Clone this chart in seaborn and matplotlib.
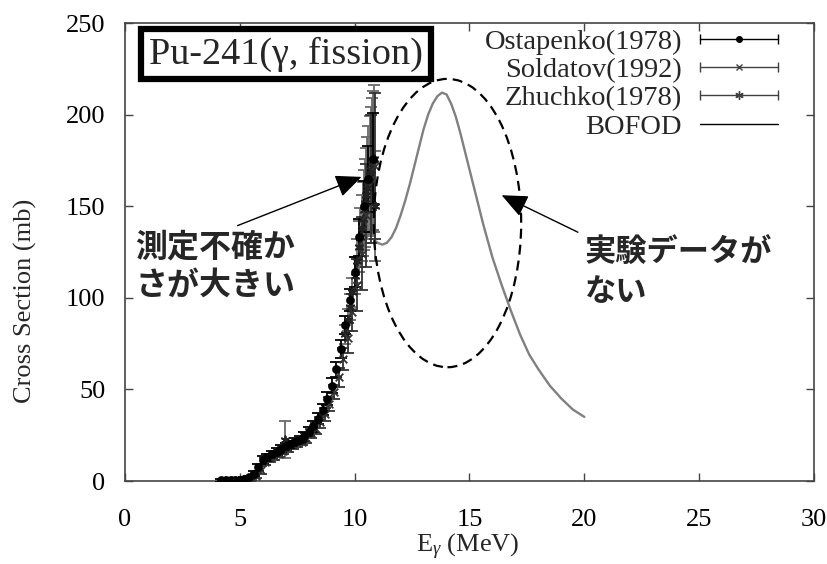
import numpy as np
import pandas as pd
import matplotlib
matplotlib.use("Agg")
import matplotlib.pyplot as plt
import seaborn as sns
from matplotlib.lines import Line2D
from matplotlib.patches import Ellipse

# ---------------- data ----------------
ost_E = [4.2, 4.4, 4.6, 4.8, 5.0, 5.2, 5.4, 5.6, 5.8, 6.0, 6.2, 6.4, 6.6, 6.8, 7.0, 7.2, 7.4,
         7.6, 7.8, 8.0, 8.2, 8.4, 8.6, 8.8, 9.0, 9.2, 9.4, 9.6, 9.8, 10.0, 10.2, 10.4, 10.6, 10.8]
ost_sig = [0.3, 0.4, 0.5, 0.6, 0.8, 1.2, 2.0, 4.0, 7.5, 11.5, 13.0, 14.5, 16.0, 17.5, 19.0, 20.0,
           21.5, 22.5, 24.5, 27.0, 30.0, 34.0, 39.0, 45.0, 52.0, 61.0, 72.0, 85.0, 99.0, 114.0,
           133.0, 150.0, 165.0, 176.0]
ost_err = [1.0, 1.0, 1.0, 1.0, 1.0, 1.0, 1.0, 1.5, 2.0, 2.0, 2.0, 2.0, 2.0, 2.0, 2.0, 2.0, 2.0,
           2.0, 2.5, 2.5, 3.0, 3.0, 3.0, 3.5, 4.0, 4.0, 5.0, 5.0, 6.0, 8.0, 10.0, 14.0, 18.0, 25.0]

sol_E = [4.3, 4.5, 4.7, 4.9, 5.1, 5.3, 5.5, 5.7, 5.9, 6.1, 6.3, 6.5, 6.7, 6.9, 7.1, 7.3, 7.5,
         7.7, 7.9, 8.1, 8.3, 8.5, 8.7, 8.9, 9.1, 9.3, 9.5, 9.7, 9.9, 10.1, 10.3, 10.5, 10.7, 10.9]
sol_sig = [0.2, 0.3, 0.4, 0.5, 0.7, 1.0, 1.5, 3.0, 6.0, 10.5, 12.5, 13.5, 15.0, 16.5, 18.0, 19.5,
           20.5, 21.5, 23.5, 26.0, 28.5, 32.0, 36.5, 42.0, 48.5, 56.5, 66.5, 78.0, 92.0, 107.0,
           124.0, 145.0, 165.0, 172.0]
sol_err = [1.0, 1.0, 1.0, 1.0, 1.0, 1.0, 1.0, 1.5, 2.0, 2.0, 2.0, 2.0, 2.0, 2.0, 2.0, 2.0, 2.0,
           2.0, 2.5, 2.5, 3.0, 3.0, 3.5, 4.0, 4.0, 5.0, 6.0, 8.0, 10.0, 14.0, 20.0, 28.0, 35.0, 40.0]

zhu_E = [6.95, 9.6, 9.7, 9.8, 9.9, 10.0, 10.1, 10.2, 10.25, 10.3, 10.35, 10.4, 10.45, 10.5,
         10.55, 10.6, 10.65, 10.7, 10.75, 10.8, 10.85, 10.9]
zhu_sig = [22.5, 80.0, 88.0, 95.0, 103.0, 112.0, 120.0, 128.0, 133.0, 138.0, 143.0, 148.0, 152.0,
           156.0, 160.0, 164.0, 167.0, 170.0, 173.0, 175.0, 176.0, 150.0]
zhu_err = [10.0, 5.0, 6.0, 7.0, 8.0, 10.0, 12.0, 14.0, 16.0, 18.0, 20.0, 22.0, 24.0, 26.0, 28.0,
           30.0, 32.0, 34.0, 36.0, 38.0, 40.0, 30.0]

bofod_E = [10.9, 11.0, 11.2, 11.4, 11.6, 11.8, 12.0, 12.2, 12.4, 12.6, 12.8, 13.0, 13.2, 13.4,
           13.6, 13.8, 14.0, 14.2, 14.4, 14.6, 14.8, 15.0, 15.2, 15.4, 15.6, 15.8, 16.0, 16.4,
           16.8, 17.2, 17.6, 18.0, 18.5, 19.0, 19.5, 20.0]
bofod_sig = [131, 130, 129, 130, 133, 138, 145, 153, 162, 172, 182, 192, 200, 206, 210, 212, 211,
             206, 199, 190, 180, 170, 160, 150, 140, 131, 122, 107, 93, 80, 69, 61, 52, 45, 39, 35]

x_ticks = [0, 5, 10, 15, 20, 25, 30]
y_ticks = [0, 50, 100, 150, 200, 250]

labels = ["Ostapenko(1978)", "Soldatov(1992)", "Zhuchko(1978)", "BOFOD"]

# ---------------- style ----------------
sns.set_style("ticks")
plt.rcParams["font.family"] = ["Liberation Serif", "DejaVu Serif"]
plt.rcParams["mathtext.fontset"] = "custom"
plt.rcParams["mathtext.rm"] = "Liberation Serif"
plt.rcParams["mathtext.it"] = "Liberation Serif:italic"

fig = plt.figure(figsize=(8.28, 5.64), dpi=100)
ax = fig.add_axes([125 / 828, 1 - 481 / 564, 689 / 828, 458 / 564])

frame_col = "#444444"

# BOFOD curve
bdf = pd.DataFrame({"E": bofod_E, "sig": bofod_sig})
sns.lineplot(data=bdf, x="E", y="sig", ax=ax, color="#808080", lw=1.7, legend=False, zorder=3)

# experimental data
series = [
    (zhu_E, zhu_sig, zhu_err, "#6a6a6a", "#222222", (6, 2, 0), 6),
    (sol_E, sol_sig, sol_err, "#333333", "#333333", "x", 5.5),
    (ost_E, ost_sig, ost_err, "black", "black", "o", 5),
]
for E, s, e, col, mcol, mk, ms in series:
    ax.errorbar(E, s, yerr=e, fmt="none", ecolor=col, elinewidth=1.3, capsize=4.5,
                capthick=1.3, zorder=4)
    df = pd.DataFrame({"E": E, "sig": s})
    sns.scatterplot(data=df, x="E", y="sig", ax=ax, marker=mk, s=ms ** 2, color=mcol,
                    edgecolor=mcol, linewidth=1.3, legend=False, zorder=5)

ax.set_xlim(0, 30)
ax.set_ylim(0, 250)
ax.set_xticks(x_ticks)
ax.set_yticks(y_ticks)
ax.tick_params(axis="both", direction="in", length=6, width=1, color=frame_col,
               labelsize=19, top=True, right=True, labelcolor="black")
ax.tick_params(axis="x", pad=20)
ax.tick_params(axis="y", pad=14)
for sp in ax.spines.values():
    sp.set_color(frame_col)
    sp.set_linewidth(1.2)
    sp.set_visible(True)

ax.set_xlabel(r"E$_\gamma$ (MeV)", fontsize=19)
ax.set_ylabel("Cross Section (mb)", fontsize=19)
ax.xaxis.set_label_coords(0.498, -0.112)
ax.yaxis.set_label_coords(-0.128, 0.394)

# title box
ax.text(0.2337, 0.9325, "Pu-241(γ, fission)", transform=ax.transAxes, fontsize=27.5,
        ha="center", va="center", zorder=10,
        bbox=dict(boxstyle="square,pad=0.2", fc="white", ec="black", lw=4.5))


# legend with gnuplot-like error-bar keys
class ErrKey:
    def __init__(self, color, marker, ms, caps=True):
        self.color, self.marker, self.ms, self.caps = color, marker, ms, caps


class ErrKeyHandler:
    def legend_artist(self, legend, orig_handle, fontsize, handlebox):
        x0, y0 = -handlebox.xdescent, -handlebox.ydescent
        w, h = handlebox.width, handlebox.height
        y = y0 + h / 2
        tr = handlebox.get_transform()
        arts = [Line2D([x0, x0 + w], [y, y], color=orig_handle.color, lw=1.0, transform=tr)]
        if orig_handle.caps:
            arts.append(Line2D([x0, x0 + w], [y, y], ls="none", marker="|", ms=7,
                               mew=1.0, color=orig_handle.color, transform=tr))
        if orig_handle.marker is not None:
            arts.append(Line2D([x0 + w / 2], [y], ls="none", marker=orig_handle.marker,
                               ms=orig_handle.ms, mew=1.0, color=orig_handle.color,
                               transform=tr))
        for a in arts:
            handlebox.add_artist(a)
        return arts[0]


keys = [ErrKey("black", "o", 4), ErrKey("#404040", "x", 5), ErrKey("#404040", (6, 2, 0), 6),
        ErrKey("black", None, 0, caps=False)]
leg = ax.legend(keys, labels, handler_map={ErrKey: ErrKeyHandler()}, loc="upper right",
                bbox_to_anchor=((778 - 125) / 689, (481 - 29) / 458), frameon=False,
                markerfirst=False, fontsize=20.5, handlelength=2.75, handletextpad=0.62,
                labelspacing=0.08, borderpad=0, borderaxespad=0)

# dashed ellipse around the unmeasured region
ax.add_patch(Ellipse((14.04, 140.8), 6.42, 157.4, fill=False, ec="black", lw=1.6,
                     ls=(0, (4.5, 2.7)), zorder=6))

# annotations
jp = ["Noto Sans CJK JP", "DejaVu Sans"]
ax.annotate("", xy=(10.3, 166), xytext=(4.9, 139.4),
            arrowprops=dict(arrowstyle="-|>,head_length=0.8,head_width=0.35", color="black",
                            lw=1.0, mutation_scale=20, shrinkA=0, shrinkB=0), zorder=7)
ax.annotate("", xy=(16.4, 156), xytext=(19.72, 135.8),
            arrowprops=dict(arrowstyle="-|>,head_length=0.8,head_width=0.35", color="black",
                            lw=1.0, mutation_scale=20, shrinkA=0, shrinkB=0), zorder=7)
ax.text((135 - 125) / 22.97, (481 - 266) / 1.836, "測定不確か\nさが大きい", family=jp,
        fontweight="bold", fontsize=23, ha="left", va="center", linespacing=1.25, zorder=8)
ax.text((585 - 125) / 22.97, (481 - 272) / 1.836, "実験データが\nない", family=jp,
        fontweight="bold", fontsize=22.5, ha="left", va="center", linespacing=1.25, zorder=8)

fig.savefig("out.png", dpi=100)
